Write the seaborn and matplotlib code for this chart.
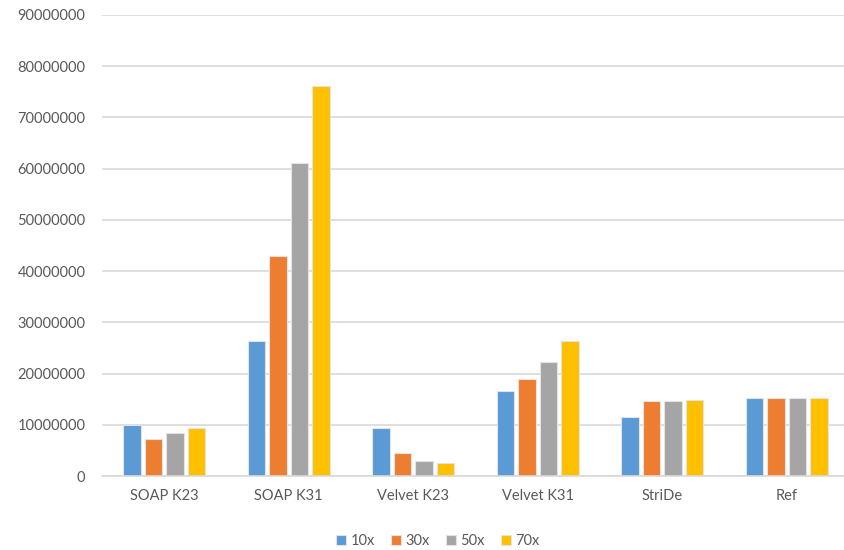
import matplotlib
matplotlib.use("Agg")
import matplotlib.pyplot as plt
import matplotlib.ticker as mticker
import seaborn as sns
import pandas as pd

# Assembly statistics per assembler and sequencing depth
categories = ["SOAP K23", "SOAP K31", "Velvet K23", "Velvet K31", "StriDe", "Ref"]
series_names = ["10x", "30x", "50x", "70x"]
values_10x = [9900000, 26300000, 9400000, 16600000, 11450000, 15150000]
values_30x = [7150000, 43000000, 4400000, 18850000, 14550000, 15150000]
values_50x = [8450000, 61100000, 3000000, 22200000, 14550000, 15150000]
values_70x = [9400000, 76200000, 2600000, 26450000, 14750000, 15150000]
y_ticks = [0, 10000000, 20000000, 30000000, 40000000, 50000000,
           60000000, 70000000, 80000000, 90000000]
colors = ["#5B9BD5", "#ED7D31", "#A5A5A5", "#FFC000"]

rows = []
for name, vals in zip(series_names, [values_10x, values_30x, values_50x, values_70x]):
    for cat, v in zip(categories, vals):
        rows.append({"category": cat, "depth": name, "value": v})
df = pd.DataFrame(rows)

sns.set_theme(style="white")
plt.rcParams["font.family"] = ["Lato", "DejaVu Sans"]

fig = plt.figure(figsize=(8.44, 5.5), dpi=100)
ax = fig.add_axes([102 / 844, 1 - 476 / 550, 747 / 844, 461 / 550])

sns.barplot(data=df, x="category", y="value", hue="depth",
            palette=colors, saturation=1, width=0.69, gap=0.2, ax=ax,
            edgecolor="#e3e3e3", linewidth=0.8, legend=True)

ax.set_ylim(0, 90000000)
ax.set_yticks(y_ticks)
ax.yaxis.set_major_formatter(mticker.FuncFormatter(lambda v, p: f"{int(v)}"))
ax.set_xlim(-0.5, len(categories) - 0.5)
ax.grid(axis="y", color="#D9D9D9", linewidth=1.2)
ax.set_axisbelow(True)
for side in ["left", "right", "top"]:
    ax.spines[side].set_visible(False)
ax.spines["bottom"].set_color("#D9D9D9")
ax.spines["bottom"].set_linewidth(1.2)
ax.tick_params(axis="both", length=0, labelsize=10.5, labelcolor="#595959")
ax.tick_params(axis="y", pad=12)
ax.tick_params(axis="x", pad=9)
ax.set_xlabel("")
ax.set_ylabel("")

handles, labels = ax.get_legend_handles_labels()
ax.legend(handles, labels, loc="center",
          bbox_to_anchor=((438 - 102) / 747, (476 - 541) / 461),
          ncol=4, frameon=False, fontsize=10.5, labelcolor="#595959",
          handlelength=0.7, handleheight=0.7, handletextpad=0.3, columnspacing=1.1)

fig.savefig("out.png", dpi=100)
